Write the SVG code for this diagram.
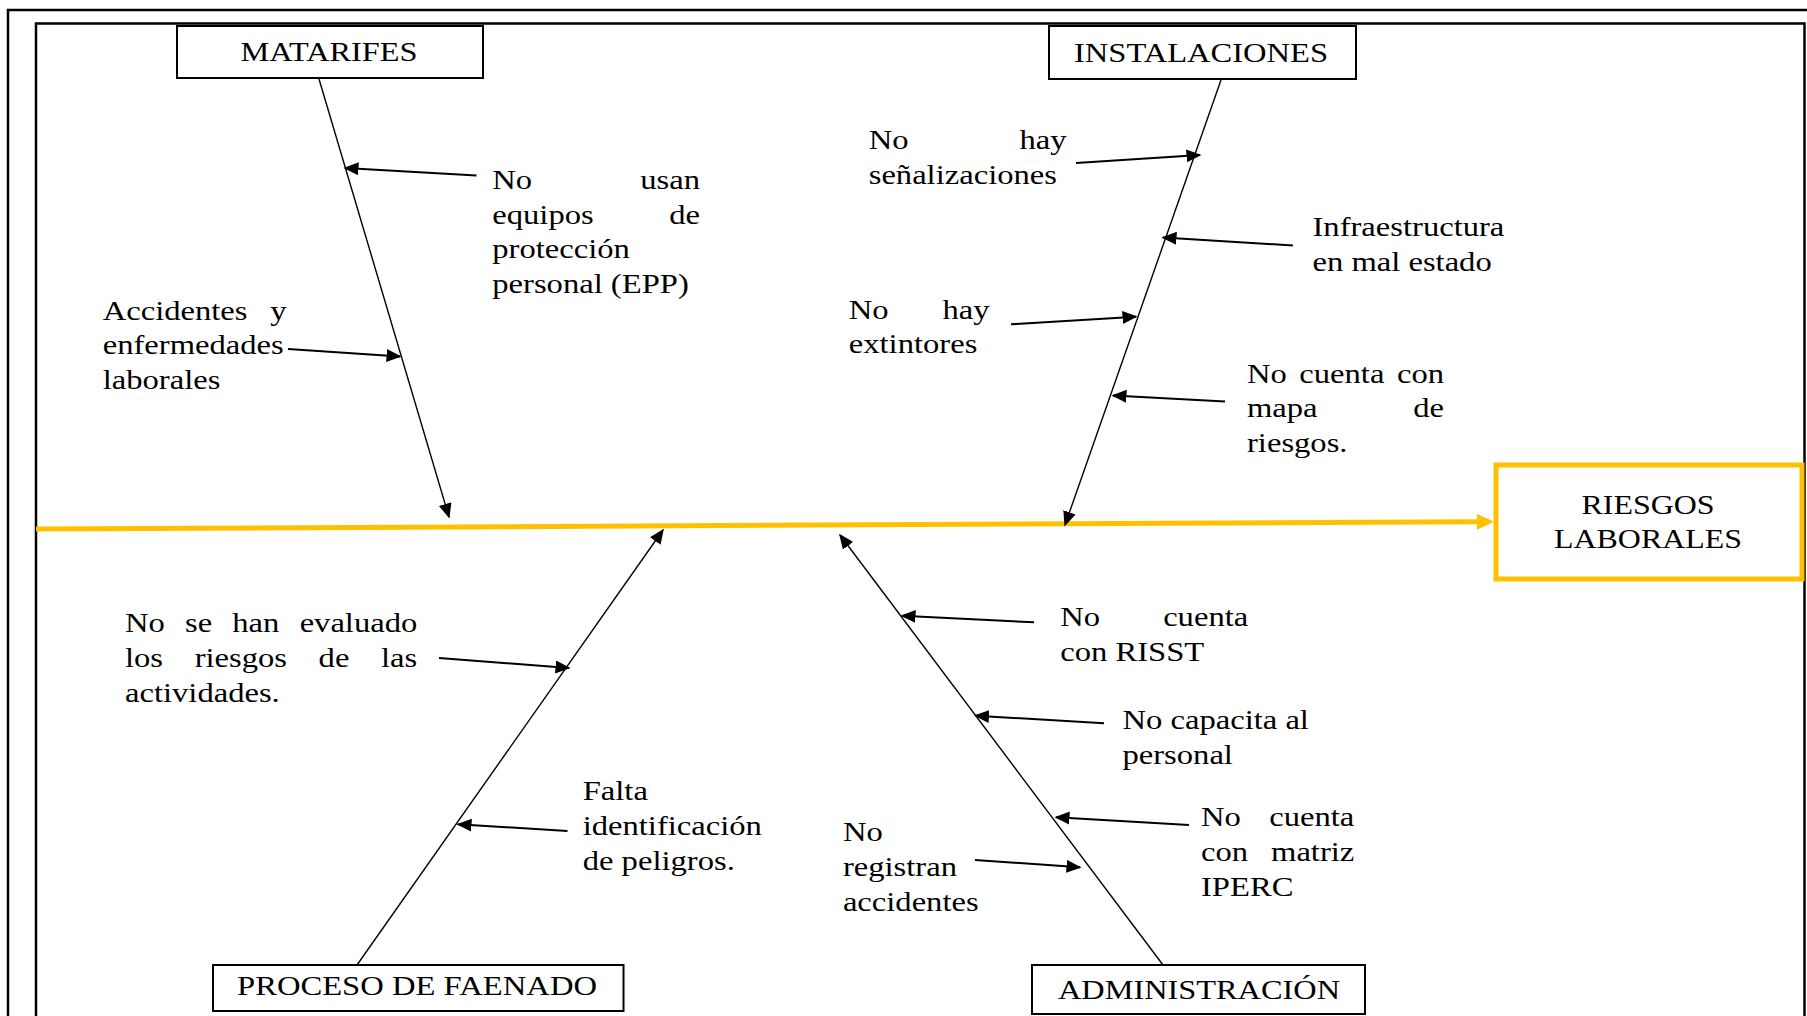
<svg xmlns="http://www.w3.org/2000/svg" width="1807" height="1016" viewBox="0 0 1807 1016">
  <style>
    .frame { fill: none; stroke: #000; stroke-width: 2.5; }
    .box { fill: #fff; stroke: #000; stroke-width: 2; }
    .effect-box { fill: #fff; stroke: #FFC000; stroke-width: 5; }
    .lbl { font-family: "Liberation Serif", "Times New Roman", serif; font-size: 28px; fill: #000; }
    .e { text-anchor: end; }
    .m { text-anchor: middle; }
    .bone { stroke: #000; stroke-width: 1.4; fill: none; marker-end: url(#ah); }
    .cause { stroke: #000; stroke-width: 2; fill: none; marker-end: url(#ah); }
    .spine { stroke: #FFC000; stroke-width: 5; fill: none; marker-end: url(#ahy); }
  </style>
  <defs>
    <marker id="ah" markerUnits="userSpaceOnUse" markerWidth="16" markerHeight="14" refX="13.5" refY="6.5" orient="auto">
      <path d="M0,0 L15,6.5 L0,13 z" fill="#000"/>
    </marker>
    <marker id="ahy" markerUnits="userSpaceOnUse" markerWidth="18" markerHeight="16" refX="0" refY="8" orient="auto">
      <path d="M0,0 L17,8 L0,16 z" fill="#FFC000"/>
    </marker>
  </defs>

  <rect width="1807" height="1016" fill="#fff"/>

  <!-- double page frame, running off the right and bottom edges -->
  <g id="frame">
    <rect class="frame" x="8" y="10" width="1840" height="1060"/>
    <rect class="frame" x="36" y="23.5" width="1768.5" height="1060"/>
  </g>

  <!-- spine, category bones and cause arrows -->
  <g id="connectors">
    <line class="spine" x1="36" y1="529" x2="1477" y2="521.8"/>

    <line class="bone" x1="319" y1="79" x2="449" y2="517"/>
    <line class="bone" x1="1221" y1="80" x2="1065" y2="525"/>
    <line class="bone" x1="357" y1="965" x2="663" y2="530"/>
    <line class="bone" x1="1163" y1="965" x2="840" y2="535"/>

    <line class="cause" x1="476.5" y1="175.5" x2="345" y2="168"/>
    <line class="cause" x1="288" y1="349" x2="400" y2="356.5"/>
    <line class="cause" x1="1076" y1="163" x2="1200" y2="155"/>
    <line class="cause" x1="1293" y1="245.5" x2="1163" y2="237.5"/>
    <line class="cause" x1="1011" y1="324.3" x2="1136" y2="316.7"/>
    <line class="cause" x1="1225" y1="401.5" x2="1113" y2="395.5"/>
    <line class="cause" x1="439" y1="658" x2="569" y2="668"/>
    <line class="cause" x1="567.5" y1="831" x2="458" y2="824.3"/>
    <line class="cause" x1="1034" y1="622.3" x2="902" y2="615.7"/>
    <line class="cause" x1="1104" y1="723.3" x2="975.5" y2="715.7"/>
    <line class="cause" x1="1189" y1="825" x2="1056" y2="817.3"/>
    <line class="cause" x1="975" y1="860" x2="1080" y2="867.3"/>
  </g>

  <!-- category heads -->
  <g id="matarifes">
    <rect class="box" x="177" y="26" width="306" height="52"/>
    <text class="lbl m" x="329" y="60.7" textLength="177" lengthAdjust="spacingAndGlyphs">MATARIFES</text>
  </g>
  <g id="instalaciones">
    <rect class="box" x="1049" y="26" width="307" height="53"/>
    <text class="lbl m" x="1201" y="61.7" textLength="254" lengthAdjust="spacingAndGlyphs">INSTALACIONES</text>
  </g>
  <g id="proceso-faenado">
    <rect class="box" x="213" y="965" width="410.5" height="46"/>
    <text class="lbl m" x="417" y="995" textLength="360" lengthAdjust="spacingAndGlyphs">PROCESO DE FAENADO</text>
  </g>
  <g id="administracion">
    <rect class="box" x="1032" y="965" width="333" height="49"/>
    <text class="lbl m" x="1199" y="998.5" textLength="282" lengthAdjust="spacingAndGlyphs">ADMINISTRACIÓN</text>
  </g>

  <!-- effect -->
  <g id="riesgos-laborales">
    <rect class="effect-box" x="1496" y="465" width="306" height="114"/>
    <text class="lbl m" x="1648" y="514.3" textLength="133" lengthAdjust="spacingAndGlyphs">RIESGOS</text>
    <text class="lbl m" x="1648" y="548.3" textLength="188" lengthAdjust="spacingAndGlyphs">LABORALES</text>
  </g>

  <!-- causes: text is set 1.165 wide, x values are local to each block -->
  <g id="cause-epp" class="lbl" transform="matrix(1.165 0 0 1 492.3 0)">
    <text x="0" y="189">No</text>
    <text class="e" x="178.3" y="189">usan</text>
    <text x="0" y="223.6">equipos</text>
    <text class="e" x="178.3" y="223.6">de</text>
    <text x="0" y="258.2">protección</text>
    <text x="0" y="292.8">personal (EPP)</text>
  </g>

  <g id="cause-accidentes" class="lbl" transform="matrix(1.165 0 0 1 102.7 0)">
    <text x="0" y="319.7">Accidentes</text>
    <text class="e" x="157.9" y="319.7">y</text>
    <text x="0" y="354.3">enfermedades</text>
    <text x="0" y="388.9">laborales</text>
  </g>

  <g id="cause-senalizaciones" class="lbl" transform="matrix(1.165 0 0 1 868.7 0)">
    <text x="0" y="149.3">No</text>
    <text class="e" x="169.8" y="149.3">hay</text>
    <text x="0" y="183.8">señalizaciones</text>
  </g>

  <g id="cause-infraestructura" class="lbl" transform="matrix(1.165 0 0 1 1312.5 0)">
    <text x="0" y="236.5">Infraestructura</text>
    <text x="0" y="271">en mal estado</text>
  </g>

  <g id="cause-extintores" class="lbl" transform="matrix(1.165 0 0 1 848.8 0)">
    <text x="0" y="319">No</text>
    <text class="e" x="120.8" y="319">hay</text>
    <text x="0" y="353.5">extintores</text>
  </g>

  <g id="cause-mapa" class="lbl" transform="matrix(1.165 0 0 1 1247 0)">
    <text x="0" y="382.9">No</text>
    <text x="44.9" y="382.9">cuenta</text>
    <text class="e" x="169.1" y="382.9">con</text>
    <text x="0" y="417.5">mapa</text>
    <text class="e" x="169.1" y="417.5">de</text>
    <text x="0" y="452.4">riesgos.</text>
  </g>

  <g id="cause-evaluacion" class="lbl" transform="matrix(1.165 0 0 1 125 0)">
    <text x="0" y="632">No</text>
    <text x="51.5" y="632">se</text>
    <text x="92.1" y="632">han</text>
    <text class="e" x="250.9" y="632">evaluado</text>
    <text x="0" y="667">los</text>
    <text x="59.8" y="667">riesgos</text>
    <text x="166.2" y="667">de</text>
    <text class="e" x="250.9" y="667">las</text>
    <text x="0" y="702">actividades.</text>
  </g>

  <g id="cause-peligros" class="lbl" transform="matrix(1.165 0 0 1 582.7 0)">
    <text x="0" y="800">Falta</text>
    <text x="0" y="834.6">identificación</text>
    <text x="0" y="869.6">de peligros.</text>
  </g>

  <g id="cause-risst" class="lbl" transform="matrix(1.165 0 0 1 1060.3 0)">
    <text x="0" y="626">No</text>
    <text class="e" x="161.3" y="626">cuenta</text>
    <text x="0" y="661">con RISST</text>
  </g>

  <g id="cause-capacitacion" class="lbl" transform="matrix(1.165 0 0 1 1122.5 0)">
    <text x="0" y="729">No capacita al</text>
    <text x="0" y="763.6">personal</text>
  </g>

  <g id="cause-iperc" class="lbl" transform="matrix(1.165 0 0 1 1201 0)">
    <text x="0" y="826.5">No</text>
    <text class="e" x="131.6" y="826.5">cuenta</text>
    <text x="0" y="861.5">con</text>
    <text class="e" x="131.6" y="861.5">matriz</text>
    <text x="0" y="896">IPERC</text>
  </g>

  <g id="cause-registro" class="lbl" transform="matrix(1.165 0 0 1 842.9 0)">
    <text x="0" y="841.5">No</text>
    <text x="0" y="876.1">registran</text>
    <text x="0" y="910.7">accidentes</text>
  </g>
</svg>
